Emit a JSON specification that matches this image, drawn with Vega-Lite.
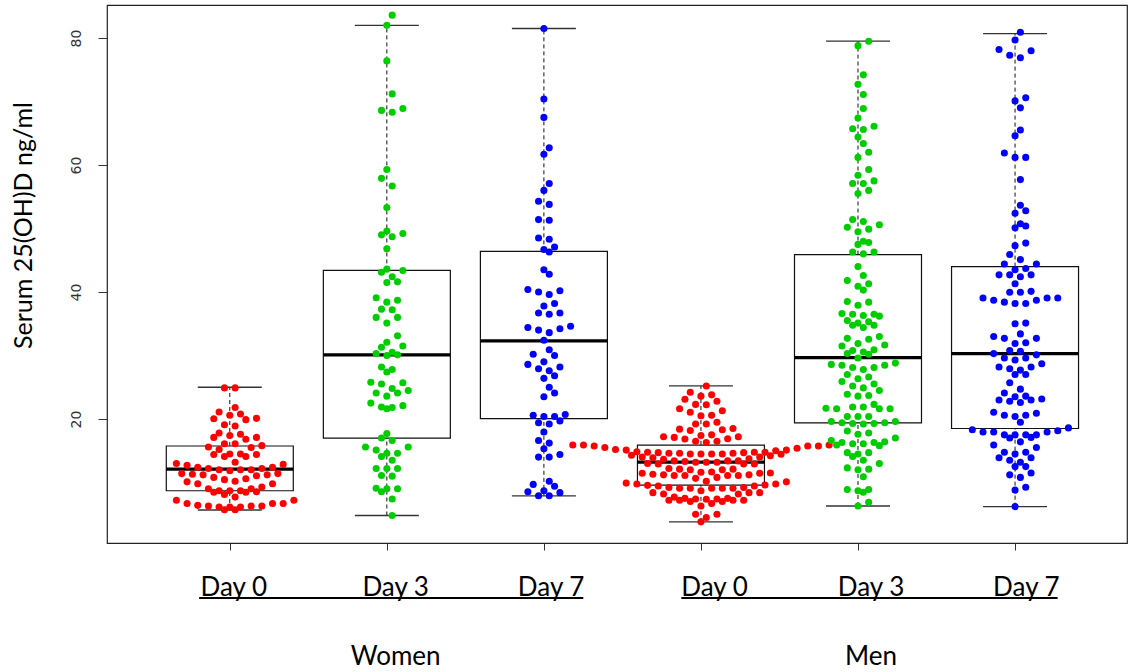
{
  "$schema": "https://vega.github.io/schema/vega-lite/v6.json",
  "width": 1020,
  "height": 538,
  "autosize": {"type": "none"},
  "padding": {"left": 107, "top": 5, "right": 1, "bottom": 129},
  "background": "white",
  "config": {
    "view": {"stroke": "#222", "strokeWidth": 1.2},
    "font": "Lato",
    "axisY": {
      "labelAngle": -90, "labelAlign": "center", "labelBaseline": "middle",
      "labelPadding": 22, "tickSize": 9, "labelFont": "DejaVu Sans", "labelFontSize": 14,
      "labelColor": "#333", "tickColor": "#333", "domain": false, "grid": false, "tickCount": 4,
      "titleFont": "Lato", "titleFontSize": 25, "titleFontWeight": "normal", "titleColor": "black",
      "titleX": -84, "titleY": 220, "titleAngle": -90, "titleAlign": "center", "titleBaseline": "middle"
    }
  },
  "datasets": {
    "box": [
      {"g": "W0", "lo": 5.67, "q1": 8.7, "med": 12.1, "q3": 15.75, "hi": 25.0},
      {"g": "W3", "lo": 4.8, "q1": 17.0, "med": 30.1, "q3": 43.4, "hi": 82.0},
      {"g": "W7", "lo": 7.9, "q1": 20.05, "med": 32.3, "q3": 46.4, "hi": 81.5},
      {"g": "M0", "lo": 3.8, "q1": 9.6, "med": 13.2, "q3": 15.9, "hi": 25.2},
      {"g": "M3", "lo": 6.3, "q1": 19.4, "med": 29.65, "q3": 45.9, "hi": 79.5},
      {"g": "M7", "lo": 6.2, "q1": 18.5, "med": 30.3, "q3": 44.0, "hi": 80.7}
    ],
    "pts": [
{"g":"W0","v":24.9},{"g":"W0","v":24.9},{"g":"W0","v":21.8},{"g":"W0","v":21.1},{"g":"W0","v":20.6},{"g":"W0","v":20.05},{"g":"W0","v":19.9},{"g":"W0","v":20.1},{"g":"W0","v":20.8},{"g":"W0","v":19.1},{"g":"W0","v":18.9},{"g":"W0","v":17.1},{"g":"W0","v":16.8},{"g":"W0","v":17.8},{"g":"W0","v":17.1},{"g":"W0","v":17.6},{"g":"W0","v":17.4},{"g":"W0","v":15.6},{"g":"W0","v":15.8},{"g":"W0","v":15.2},{"g":"W0","v":16.1},{"g":"W0","v":16.1},{"g":"W0","v":15.5},{"g":"W0","v":14.5},{"g":"W0","v":14.4},{"g":"W0","v":14.1},{"g":"W0","v":14.1},{"g":"W0","v":14.4},{"g":"W0","v":14.5},{"g":"W0","v":13.0},{"g":"W0","v":13.2},{"g":"W0","v":12.85},{"g":"W0","v":12.4},{"g":"W0","v":12.0},{"g":"W0","v":12.0},{"g":"W0","v":11.85},{"g":"W0","v":12.0},{"g":"W0","v":12.4},{"g":"W0","v":12.2},{"g":"W0","v":12.2},{"g":"W0","v":12.7},{"g":"W0","v":11.4},{"g":"W0","v":11.2},{"g":"W0","v":11.05},{"g":"W0","v":11.3},{"g":"W0","v":11.2},{"g":"W0","v":11.4},{"g":"W0","v":10.2},{"g":"W0","v":10.1},{"g":"W0","v":9.8},{"g":"W0","v":9.8},{"g":"W0","v":10.45},{"g":"W0","v":10.8},{"g":"W0","v":10.6},{"g":"W0","v":9.0},{"g":"W0","v":8.7},{"g":"W0","v":8.7},{"g":"W0","v":8.45},{"g":"W0","v":8.45},{"g":"W0","v":8.1},{"g":"W0","v":8.55},{"g":"W0","v":8.7},{"g":"W0","v":9.0},{"g":"W0","v":9.3},{"g":"W0","v":7.7},{"g":"W0","v":7.2},{"g":"W0","v":6.7},{"g":"W0","v":6.7},{"g":"W0","v":6.3},{"g":"W0","v":6.3},{"g":"W0","v":6.15},{"g":"W0","v":6.15},{"g":"W0","v":6.15},{"g":"W0","v":6.3},{"g":"W0","v":6.4},{"g":"W0","v":6.7},{"g":"W0","v":7.2},{"g":"W0","v":5.7},{"g":"W0","v":5.7},
{"g":"W3","v":83.6},{"g":"W3","v":82.0},{"g":"W3","v":76.4},{"g":"W3","v":71.2},{"g":"W3","v":68.9},{"g":"W3","v":68.3},{"g":"W3","v":68.6},{"g":"W3","v":59.3},{"g":"W3","v":57.9},{"g":"W3","v":56.7},{"g":"W3","v":53.3},{"g":"W3","v":49.2},{"g":"W3","v":48.7},{"g":"W3","v":49.0},{"g":"W3","v":49.6},{"g":"W3","v":46.8},{"g":"W3","v":43.6},{"g":"W3","v":43.1},{"g":"W3","v":43.4},{"g":"W3","v":42.4},{"g":"W3","v":41.5},{"g":"W3","v":41.6},{"g":"W3","v":38.4},{"g":"W3","v":38.7},{"g":"W3","v":39.1},{"g":"W3","v":37.2},{"g":"W3","v":37.3},{"g":"W3","v":36.0},{"g":"W3","v":35.1},{"g":"W3","v":36.0},{"g":"W3","v":33.1},{"g":"W3","v":32.1},{"g":"W3","v":31.5},{"g":"W3","v":31.3},{"g":"W3","v":30.5},{"g":"W3","v":30.3},{"g":"W3","v":30.0},{"g":"W3","v":30.1},{"g":"W3","v":28.2},{"g":"W3","v":27.4},{"g":"W3","v":27.8},{"g":"W3","v":25.8},{"g":"W3","v":24.8},{"g":"W3","v":25.5},{"g":"W3","v":24.1},{"g":"W3","v":23.6},{"g":"W3","v":24.1},{"g":"W3","v":24.5},{"g":"W3","v":25.7},{"g":"W3","v":22.1},{"g":"W3","v":21.9},{"g":"W3","v":21.6},{"g":"W3","v":21.8},{"g":"W3","v":22.5},{"g":"W3","v":17.7},{"g":"W3","v":17.0},{"g":"W3","v":16.6},{"g":"W3","v":15.6},{"g":"W3","v":14.6},{"g":"W3","v":14.6},{"g":"W3","v":15.6},{"g":"W3","v":14.1},{"g":"W3","v":15.1},{"g":"W3","v":13.5},{"g":"W3","v":12.2},{"g":"W3","v":12.2},{"g":"W3","v":11.0},{"g":"W3","v":11.1},{"g":"W3","v":12.2},{"g":"W3","v":9.0},{"g":"W3","v":9.0},{"g":"W3","v":8.55},{"g":"W3","v":9.1},{"g":"W3","v":7.4},{"g":"W3","v":4.8},
{"g":"W7","v":81.5},{"g":"W7","v":70.4},{"g":"W7","v":67.5},{"g":"W7","v":62.7},{"g":"W7","v":61.7},{"g":"W7","v":57.1},{"g":"W7","v":56.0},{"g":"W7","v":54.3},{"g":"W7","v":53.8},{"g":"W7","v":51.4},{"g":"W7","v":51.3},{"g":"W7","v":48.5},{"g":"W7","v":48.3},{"g":"W7","v":47.1},{"g":"W7","v":46.7},{"g":"W7","v":46.3},{"g":"W7","v":42.8},{"g":"W7","v":43.5},{"g":"W7","v":40.2},{"g":"W7","v":39.6},{"g":"W7","v":40.0},{"g":"W7","v":40.4},{"g":"W7","v":38.2},{"g":"W7","v":37.8},{"g":"W7","v":36.7},{"g":"W7","v":36.5},{"g":"W7","v":36.7},{"g":"W7","v":34.6},{"g":"W7","v":34.2},{"g":"W7","v":34.0},{"g":"W7","v":33.6},{"g":"W7","v":34.4},{"g":"W7","v":32.4},{"g":"W7","v":30.9},{"g":"W7","v":30.0},{"g":"W7","v":30.2},{"g":"W7","v":29.0},{"g":"W7","v":27.9},{"g":"W7","v":28.2},{"g":"W7","v":27.6},{"g":"W7","v":28.6},{"g":"W7","v":26.8},{"g":"W7","v":26.4},{"g":"W7","v":25.0},{"g":"W7","v":23.5},{"g":"W7","v":24.1},{"g":"W7","v":20.7},{"g":"W7","v":19.7},{"g":"W7","v":19.4},{"g":"W7","v":20.4},{"g":"W7","v":19.2},{"g":"W7","v":20.4},{"g":"W7","v":20.6},{"g":"W7","v":17.95},{"g":"W7","v":16.2},{"g":"W7","v":16.6},{"g":"W7","v":15.3},{"g":"W7","v":14.4},{"g":"W7","v":14.0},{"g":"W7","v":14.0},{"g":"W7","v":10.2},{"g":"W7","v":9.7},{"g":"W7","v":8.7},{"g":"W7","v":8.4},{"g":"W7","v":9.4},{"g":"W7","v":8.55},{"g":"W7","v":7.9},{"g":"W7","v":7.9},
{"g":"M0","v":25.2},{"g":"M0","v":24.2},{"g":"M0","v":23.6},{"g":"M0","v":23.8},{"g":"M0","v":23.1},{"g":"M0","v":22.8},{"g":"M0","v":22.3},{"g":"M0","v":22.25},{"g":"M0","v":21.6},{"g":"M0","v":21.3},{"g":"M0","v":21.05},{"g":"M0","v":20.6},{"g":"M0","v":20.5},{"g":"M0","v":19.5},{"g":"M0","v":19.2},{"g":"M0","v":19.2},{"g":"M0","v":18.5},{"g":"M0","v":18.4},{"g":"M0","v":18.3},{"g":"M0","v":18.2},{"g":"M0","v":17.5},{"g":"M0","v":17.4},{"g":"M0","v":17.2},{"g":"M0","v":17.2},{"g":"M0","v":17.1},{"g":"M0","v":16.9},{"g":"M0","v":16.85},{"g":"M0","v":16.5},{"g":"M0","v":16.3},{"g":"M0","v":15.9},{"g":"M0","v":15.9},{"g":"M0","v":15.75},{"g":"M0","v":15.75},{"g":"M0","v":15.5},{"g":"M0","v":15.4},{"g":"M0","v":15.1},{"g":"M0","v":16.5},{"g":"M0","v":15.9},{"g":"M0","v":15.75},
{"g":"M0","v":14.75},{"g":"M0","v":14.75},{"g":"M0","v":14.75},{"g":"M0","v":14.5},{"g":"M0","v":14.5},{"g":"M0","v":13.9},{"g":"M0","v":13.3},{"g":"M0","v":15.1},{"g":"M0","v":14.6},{"g":"M0","v":14.5},{"g":"M0","v":14.2},{"g":"M0","v":14.85},{"g":"M0","v":14.0},{"g":"M0","v":13.65},{"g":"M0","v":14.3},{"g":"M0","v":14.45},{"g":"M0","v":14.6},{"g":"M0","v":15.0},{"g":"M0","v":15.2},{"g":"M0","v":13.75},{"g":"M0","v":14.0},{"g":"M0","v":14.5},{"g":"M0","v":14.7},{"g":"M0","v":14.7},{"g":"M0","v":14.6},
{"g":"M0","v":13.4},{"g":"M0","v":13.2},{"g":"M0","v":12.9},{"g":"M0","v":12.9},{"g":"M0","v":13.4},{"g":"M0","v":13.2},{"g":"M0","v":13.2},{"g":"M0","v":13.4},{"g":"M0","v":12.9},{"g":"M0","v":13.0},
{"g":"M0","v":11.65},{"g":"M0","v":11.45},{"g":"M0","v":11.2},{"g":"M0","v":11.2},{"g":"M0","v":11.1},{"g":"M0","v":11.1},{"g":"M0","v":12.2},{"g":"M0","v":11.45},{"g":"M0","v":12.1},{"g":"M0","v":11.6},{"g":"M0","v":12.0},{"g":"M0","v":10.65},{"g":"M0","v":10.8},{"g":"M0","v":11.1},{"g":"M0","v":11.1},{"g":"M0","v":12.0},{"g":"M0","v":11.3},{"g":"M0","v":11.5},{"g":"M0","v":12.1},
{"g":"M0","v":9.75},{"g":"M0","v":9.75},{"g":"M0","v":9.55},{"g":"M0","v":9.45},{"g":"M0","v":9.1},{"g":"M0","v":9.1},{"g":"M0","v":9.1},{"g":"M0","v":8.7},{"g":"M0","v":9.9},{"g":"M0","v":10.2},{"g":"M0","v":9.1},{"g":"M0","v":9.1},{"g":"M0","v":9.2},{"g":"M0","v":9.2},{"g":"M0","v":9.45},{"g":"M0","v":10.1},{"g":"M0","v":9.6},
{"g":"M0","v":8.4},{"g":"M0","v":7.7},{"g":"M0","v":7.5},{"g":"M0","v":7.35},{"g":"M0","v":7.2},{"g":"M0","v":7.2},{"g":"M0","v":7.0},{"g":"M0","v":7.0},{"g":"M0","v":8.2},{"g":"M0","v":8.4},{"g":"M0","v":7.2},{"g":"M0","v":7.2},{"g":"M0","v":7.4},{"g":"M0","v":7.4},{"g":"M0","v":7.5},{"g":"M0","v":8.2},{"g":"M0","v":8.4},
{"g":"M0","v":6.3},{"g":"M0","v":6.7},{"g":"M0","v":5.0},{"g":"M0","v":5.0},{"g":"M0","v":3.8},{"g":"M0","v":4.5},
{"g":"M3","v":79.5},{"g":"M3","v":78.8},{"g":"M3","v":74.2},{"g":"M3","v":72.7},{"g":"M3","v":71.1},{"g":"M3","v":68.9},{"g":"M3","v":67.4},{"g":"M3","v":66.1},{"g":"M3","v":65.7},{"g":"M3","v":65.6},{"g":"M3","v":64.4},{"g":"M3","v":63.4},{"g":"M3","v":62.0},{"g":"M3","v":61.2},{"g":"M3","v":59.3},{"g":"M3","v":58.4},{"g":"M3","v":57.5},{"g":"M3","v":57.1},{"g":"M3","v":57.1},{"g":"M3","v":56.0},{"g":"M3","v":55.5},{"g":"M3","v":51.4},{"g":"M3","v":51.1},{"g":"M3","v":50.6},{"g":"M3","v":50.2},{"g":"M3","v":49.9},{"g":"M3","v":49.5},{"g":"M3","v":48.0},{"g":"M3","v":47.8},{"g":"M3","v":47.5},{"g":"M3","v":46.3},{"g":"M3","v":46.0},{"g":"M3","v":46.3},{"g":"M3","v":44.0},
{"g":"M3","v":42.6},{"g":"M3","v":41.8},{"g":"M3","v":41.3},{"g":"M3","v":40.9},{"g":"M3","v":40.3},{"g":"M3","v":38.5},{"g":"M3","v":37.9},{"g":"M3","v":38.4},
{"g":"M3","v":36.5},{"g":"M3","v":35.5},{"g":"M3","v":35.3},{"g":"M3","v":34.75},{"g":"M3","v":34.4},{"g":"M3","v":34.75},{"g":"M3","v":35.1},{"g":"M3","v":36.3},{"g":"M3","v":36.5},{"g":"M3","v":36.2},{"g":"M3","v":36.6},
{"g":"M3","v":33.0},{"g":"M3","v":32.7},{"g":"M3","v":32.55},{"g":"M3","v":31.9},{"g":"M3","v":31.65},{"g":"M3","v":31.5},{"g":"M3","v":30.9},{"g":"M3","v":30.8},{"g":"M3","v":30.55},{"g":"M3","v":30.3},{"g":"M3","v":30.2},{"g":"M3","v":29.6},
{"g":"M3","v":28.8},{"g":"M3","v":28.45},{"g":"M3","v":28.45},{"g":"M3","v":28.1},{"g":"M3","v":28.1},{"g":"M3","v":28.6},{"g":"M3","v":27.8},
{"g":"M3","v":27.0},{"g":"M3","v":26.6},{"g":"M3","v":26.35},{"g":"M3","v":25.9},{"g":"M3","v":25.5},{"g":"M3","v":25.2},
{"g":"M3","v":24.9},{"g":"M3","v":24.5},{"g":"M3","v":23.9},{"g":"M3","v":23.7},{"g":"M3","v":23.6},
{"g":"M3","v":22.3},{"g":"M3","v":21.9},{"g":"M3","v":21.9},{"g":"M3","v":21.7},{"g":"M3","v":21.6},{"g":"M3","v":21.6},{"g":"M3","v":21.6},{"g":"M3","v":20.4},{"g":"M3","v":20.4},{"g":"M3","v":20.4},{"g":"M3","v":19.6},{"g":"M3","v":19.4},{"g":"M3","v":19.2},{"g":"M3","v":19.4},{"g":"M3","v":19.3},{"g":"M3","v":19.3},{"g":"M3","v":19.6},
{"g":"M3","v":18.1},{"g":"M3","v":17.6},{"g":"M3","v":17.8},
{"g":"M3","v":17.0},{"g":"M3","v":16.4},{"g":"M3","v":16.3},{"g":"M3","v":15.9},{"g":"M3","v":15.8},{"g":"M3","v":16.1},{"g":"M3","v":16.1},{"g":"M3","v":16.3},{"g":"M3","v":16.6},
{"g":"M3","v":14.7},{"g":"M3","v":14.5},{"g":"M3","v":14.7},{"g":"M3","v":14.1},{"g":"M3","v":13.5},
{"g":"M3","v":13.0},{"g":"M3","v":12.3},{"g":"M3","v":12.1},{"g":"M3","v":12.0},{"g":"M3","v":10.9},
{"g":"M3","v":8.9},{"g":"M3","v":8.9},{"g":"M3","v":8.7},{"g":"M3","v":8.45},{"g":"M3","v":6.9},{"g":"M3","v":6.3},
{"g":"M7","v":80.9},{"g":"M7","v":79.7},{"g":"M7","v":78.2},{"g":"M7","v":78.0},{"g":"M7","v":76.9},{"g":"M7","v":77.3},{"g":"M7","v":70.6},{"g":"M7","v":70.1},{"g":"M7","v":69.0},{"g":"M7","v":65.5},{"g":"M7","v":64.6},{"g":"M7","v":61.9},{"g":"M7","v":61.2},{"g":"M7","v":61.2},{"g":"M7","v":57.7},{"g":"M7","v":53.65},{"g":"M7","v":52.4},{"g":"M7","v":52.8},{"g":"M7","v":50.75},{"g":"M7","v":50.1},{"g":"M7","v":50.4},{"g":"M7","v":47.7},{"g":"M7","v":47.3},{"g":"M7","v":45.9},{"g":"M7","v":45.1},{"g":"M7","v":44.4},{"g":"M7","v":44.4},{"g":"M7","v":43.7},{"g":"M7","v":43.5},
{"g":"M7","v":42.7},{"g":"M7","v":42.7},{"g":"M7","v":42.7},{"g":"M7","v":42.4},{"g":"M7","v":41.3},{"g":"M7","v":39.95},{"g":"M7","v":39.95},{"g":"M7","v":40.1},{"g":"M7","v":39.05},{"g":"M7","v":38.7},{"g":"M7","v":38.4},{"g":"M7","v":38.2},{"g":"M7","v":38.2},{"g":"M7","v":38.7},{"g":"M7","v":39.05},{"g":"M7","v":39.05},{"g":"M7","v":35.1},{"g":"M7","v":35.0},{"g":"M7","v":33.4},{"g":"M7","v":33.0},{"g":"M7","v":32.7},{"g":"M7","v":32.7},{"g":"M7","v":32.0},{"g":"M7","v":31.9},{"g":"M7","v":30.8},{"g":"M7","v":30.65},{"g":"M7","v":30.1},{"g":"M7","v":30.3},{"g":"M7","v":29.6},{"g":"M7","v":29.3},{"g":"M7","v":29.6},{"g":"M7","v":28.7},{"g":"M7","v":28.2},{"g":"M7","v":27.9},{"g":"M7","v":28.2},{"g":"M7","v":27.7},{"g":"M7","v":27.0},{"g":"M7","v":27.0},{"g":"M7","v":25.7},{"g":"M7","v":24.7},{"g":"M7","v":24.1},{"g":"M7","v":23.5},{"g":"M7","v":23.0},{"g":"M7","v":23.0},{"g":"M7","v":22.6},{"g":"M7","v":22.8},{"g":"M7","v":23.15},{"g":"M7","v":23.6},{"g":"M7","v":21.05},{"g":"M7","v":20.6},{"g":"M7","v":20.6},{"g":"M7","v":19.5},{"g":"M7","v":20.4},{"g":"M7","v":20.9},{"g":"M7","v":18.3},{"g":"M7","v":17.5},{"g":"M7","v":17.5},{"g":"M7","v":17.1},{"g":"M7","v":18.15},{"g":"M7","v":17.5},{"g":"M7","v":17.95},{"g":"M7","v":17.0},{"g":"M7","v":17.5},{"g":"M7","v":17.95},{"g":"M7","v":17.95},{"g":"M7","v":18.6},{"g":"M7","v":16.4},{"g":"M7","v":15.9},{"g":"M7","v":15.5},{"g":"M7","v":14.75},{"g":"M7","v":14.5},{"g":"M7","v":14.75},{"g":"M7","v":13.9},{"g":"M7","v":13.9},{"g":"M7","v":13.5},{"g":"M7","v":13.2},{"g":"M7","v":12.5},{"g":"M7","v":12.5},{"g":"M7","v":11.5},{"g":"M7","v":11.2},{"g":"M7","v":10.8},{"g":"M7","v":9.25},{"g":"M7","v":8.8},{"g":"M7","v":6.2}
    ]
  },
  "resolve": {"axis": {"x": "independent"}},
  "layer": [
    {
      "data": {"name": "box"},
      "transform": [{"calculate": "indexof(['W0','W3','W7','M0','M3','M7'], datum.g) + 1", "as": "pos"}],
      "mark": {"type": "bar", "size": 127, "fill": "white", "stroke": "#111", "strokeWidth": 1.2},
      "encoding": {
        "x": {"field": "pos", "type": "quantitative", "scale": {"domain": [0.25, 6.681], "nice": false, "zero": false},
              "axis": {"orient": "bottom", "values": [1, 2, 3, 4, 5, 6], "labels": false, "ticks": true, "tickSize": 7, "tickColor": "#333", "domain": false, "grid": false, "title": null}},
        "y": {"field": "q1", "type": "quantitative", "scale": {"domain": [0.47, 85.2], "nice": false, "zero": false}, "title": "Serum 25(OH)D ng/ml"},
        "y2": {"field": "q3"}
      }
    },
    {
      "data": {"name": "box"},
      "transform": [{"calculate": "indexof(['W0','W3','W7','M0','M3','M7'], datum.g) + 1", "as": "pos"}],
      "mark": {"type": "rule", "color": "#111", "strokeWidth": 1, "strokeDash": [4, 3]},
      "encoding": {
        "x": {"field": "pos", "type": "quantitative", "axis": null},
        "y": {"field": "q3", "type": "quantitative", "title": "Serum 25(OH)D ng/ml"},
        "y2": {"field": "hi"}
      }
    },
    {
      "data": {"name": "box"},
      "transform": [{"calculate": "indexof(['W0','W3','W7','M0','M3','M7'], datum.g) + 1", "as": "pos"}],
      "mark": {"type": "rule", "color": "#111", "strokeWidth": 1, "strokeDash": [4, 3]},
      "encoding": {
        "x": {"field": "pos", "type": "quantitative", "axis": null},
        "y": {"field": "lo", "type": "quantitative", "title": "Serum 25(OH)D ng/ml"},
        "y2": {"field": "q1"}
      }
    },
    {
      "data": {"name": "box"},
      "transform": [{"calculate": "indexof(['W0','W3','W7','M0','M3','M7'], datum.g) + 1", "as": "pos"}],
      "mark": {"type": "tick", "orient": "horizontal", "size": 64, "thickness": 1.3, "color": "#333", "opacity": 1},
      "encoding": {
        "x": {"field": "pos", "type": "quantitative", "axis": null},
        "y": {"field": "hi", "type": "quantitative", "title": "Serum 25(OH)D ng/ml"}
      }
    },
    {
      "data": {"name": "box"},
      "transform": [{"calculate": "indexof(['W0','W3','W7','M0','M3','M7'], datum.g) + 1", "as": "pos"}],
      "mark": {"type": "tick", "orient": "horizontal", "size": 64, "thickness": 1.3, "color": "#333", "opacity": 1},
      "encoding": {
        "x": {"field": "pos", "type": "quantitative", "axis": null},
        "y": {"field": "lo", "type": "quantitative", "title": "Serum 25(OH)D ng/ml"}
      }
    },
    {
      "data": {"name": "box"},
      "transform": [{"calculate": "indexof(['W0','W3','W7','M0','M3','M7'], datum.g) + 1", "as": "pos"}],
      "mark": {"type": "tick", "orient": "horizontal", "size": 127, "thickness": 3.2, "color": "black", "opacity": 1},
      "encoding": {
        "x": {"field": "pos", "type": "quantitative", "axis": null},
        "y": {"field": "med", "type": "quantitative", "title": "Serum 25(OH)D ng/ml"}
      }
    },
    {
      "data": {"name": "pts"},
      "transform": [
        {"calculate": "indexof(['W0','W3','W7','M0','M3','M7'], datum.g) + 1", "as": "pos"},
        {"calculate": "floor(datum.v / 1.45)", "as": "row"},
        {"window": [{"op": "row_number", "as": "k"}], "groupby": ["g", "row"], "sort": [{"field": "v", "order": "ascending"}]},
        {"calculate": "datum.k - 1", "as": "k0"},
        {"calculate": "(datum.row % 2 == 0) ? ((datum.k0 % 2 == 1) ? (datum.k0 + 1) / 2 : -datum.k0 / 2) : ((datum.k0 % 2 == 0) ? (datum.k0 / 2 + 0.5) : -(datum.k0 / 2))", "as": "off"},
        {"calculate": "datum.pos + datum.off * 0.068", "as": "xp"}
      ],
      "mark": {"type": "circle", "size": 50, "opacity": 1},
      "encoding": {
        "x": {"field": "xp", "type": "quantitative", "axis": null},
        "y": {"field": "v", "type": "quantitative", "title": "Serum 25(OH)D ng/ml"},
        "color": {"field": "g", "type": "nominal", "legend": null,
                  "scale": {"domain": ["W0", "W3", "W7", "M0", "M3", "M7"], "range": ["#FF0000", "#00CD00", "#0000FF", "#FF0000", "#00CD00", "#0000FF"]}}
      }
    },
    {
      "data": {"values": [{}]},
      "mark": {"type": "rule", "color": "black", "strokeWidth": 2},
      "encoding": {
        "x": {"datum": 0.805, "type": "quantitative",
              "axis": {"orient": "bottom", "values": [1.022, 2.053, 3.043, 4.083, 5.08, 6.069],
                       "labelExpr": "['Day 0','Day 3','Day 7'][(round(datum.value) - 1) % 3]",
                       "ticks": false, "tickSize": 0, "domain": false, "grid": false, "title": null,
                       "labelFont": "Lato", "labelFontSize": 26, "labelColor": "black",
                       "labelBaseline": "alphabetic", "labelPadding": 52, "labelOverlap": false, "labelFlush": false}},
        "x2": {"datum": 3.251},
        "y": {"datum": -8.19, "type": "quantitative", "title": "Serum 25(OH)D ng/ml"}
      }
    },
    {
      "data": {"values": [{}]},
      "mark": {"type": "rule", "color": "black", "strokeWidth": 2},
      "encoding": {
        "x": {"datum": 3.875, "type": "quantitative",
              "axis": {"orient": "bottom", "values": [2.053, 5.08],
                       "labelExpr": "datum.value < 3.5 ? 'Women' : 'Men'",
                       "ticks": false, "tickSize": 0, "domain": false, "grid": false, "title": null,
                       "labelFont": "Lato", "labelFontSize": 26, "labelColor": "black",
                       "labelBaseline": "alphabetic", "labelPadding": 121, "labelOverlap": false, "labelFlush": false}},
        "x2": {"datum": 6.271},
        "y": {"datum": -8.19, "type": "quantitative", "title": "Serum 25(OH)D ng/ml"}
      }
    }
  ]
}
